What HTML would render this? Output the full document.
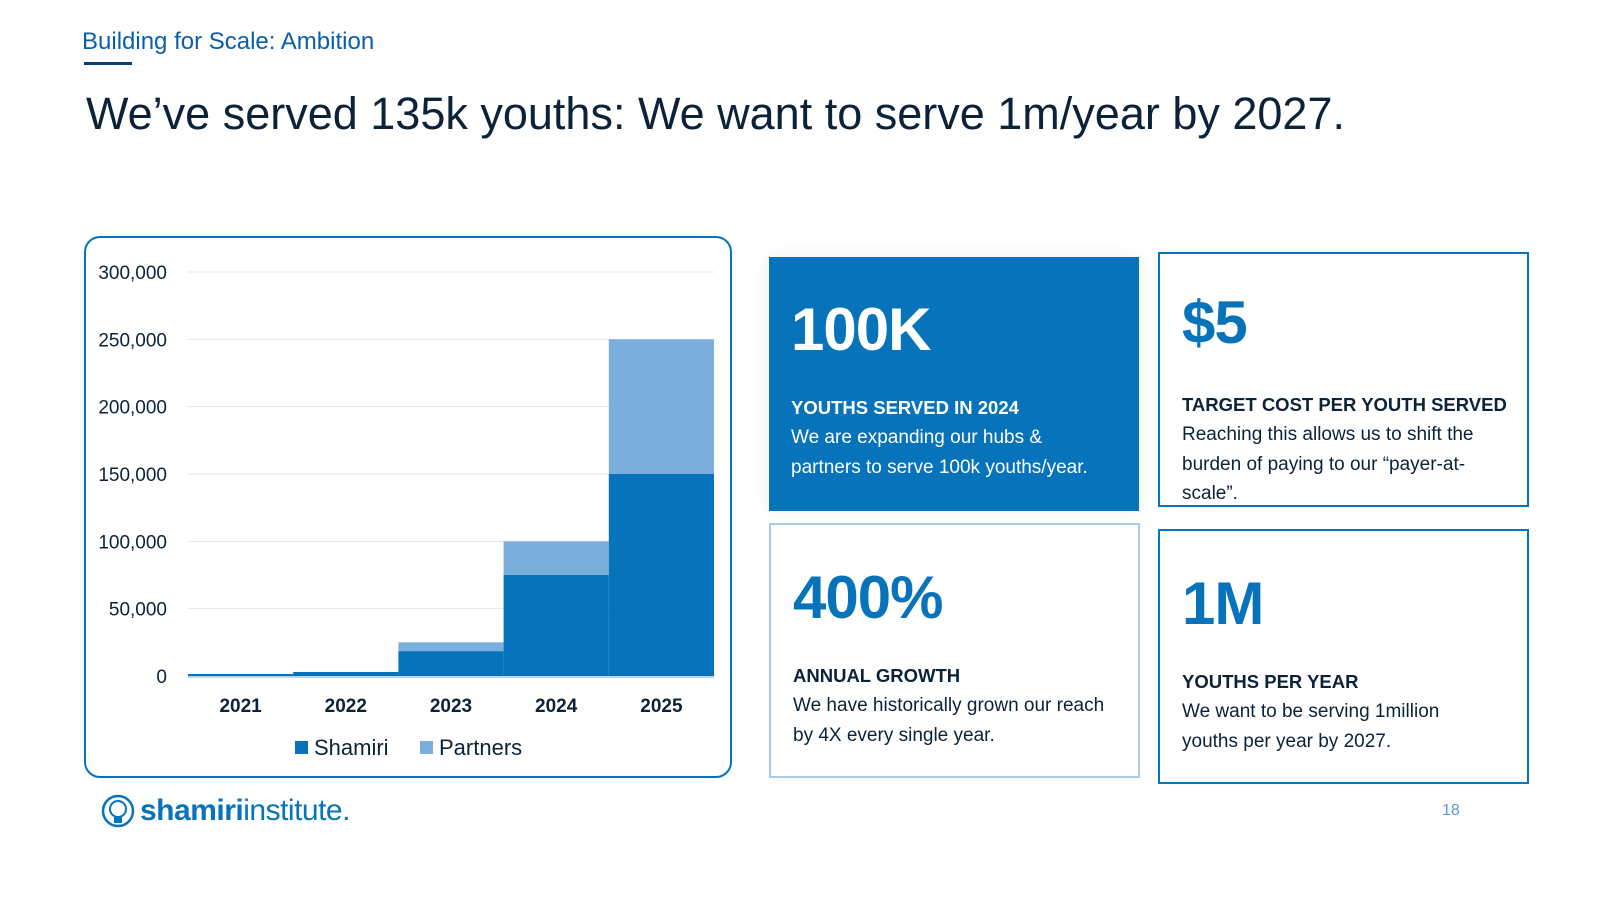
<!DOCTYPE html>
<html><head><meta charset="utf-8"><style>
body{margin:0;width:1600px;height:900px;background:#fff;font-family:"Liberation Sans",sans-serif;position:relative;overflow:hidden;color:#0c2238}
.abs{position:absolute}
.card{position:absolute;box-sizing:border-box;padding:0 22px}
.big{position:absolute;left:22px;font-weight:bold;font-size:60px;letter-spacing:-1px}
.lab{position:absolute;left:22px;font-weight:bold;font-size:18.5px;white-space:nowrap}
.txt{position:absolute;left:22px;font-size:19px;line-height:29.5px}
</style></head><body>
<div class="abs" style="left:82px;top:28px;font-size:24px;color:#0a5fa8">Building for Scale: Ambition</div>
<div class="abs" style="left:84px;top:62px;width:48px;height:3px;background:#0a3f6e"></div>
<div class="abs" style="left:86px;top:88px;font-size:45px;color:#0c2238">We’ve served 135k youths: We want to serve 1m/year by 2027.</div>

<div class="abs" style="left:84px;top:236px;width:648px;height:542px;box-sizing:border-box;border:2px solid #0673ba;border-radius:16px"></div>
<svg class="abs" style="left:0;top:0" width="740" height="790" id="chart"></svg>

<div class="card" style="left:769px;top:257px;width:370px;height:254px;background:#0673ba;color:#fff;box-shadow:0 0 16px rgba(0,0,0,0.08)">
<div class="big" style="top:38px">100K</div>
<div class="lab" style="top:140px">YOUTHS SERVED IN 2024</div>
<div class="txt" style="top:166px;width:300px">We are expanding our hubs &amp; partners to serve 100k youths/year.</div></div>

<div class="card" style="left:1158px;top:252px;width:371px;height:255px;border:2px solid #0673ba">
<div class="big" style="top:34px;color:#0673ba">$5</div>
<div class="lab" style="top:140px">TARGET COST PER YOUTH SERVED</div>
<div class="txt" style="top:166px;width:305px">Reaching this allows us to shift the burden of paying to our “payer-at-scale”.</div></div>

<div class="card" style="left:769px;top:523px;width:371px;height:255px;border:2px solid #a9cbea">
<div class="big" style="top:38px;color:#0673ba">400%</div>
<div class="lab" style="top:140px">ANNUAL GROWTH</div>
<div class="txt" style="top:166px;width:330px">We have historically grown our reach by 4X every single year.</div></div>

<div class="card" style="left:1158px;top:529px;width:371px;height:255px;border:2px solid #0673ba">
<div class="big" style="top:38px;color:#0673ba">1M</div>
<div class="lab" style="top:140px">YOUTHS PER YEAR</div>
<div class="txt" style="top:166px;width:295px">We want to be serving 1million youths per year by 2027.</div></div>

<div class="abs" style="left:100px;top:793px;display:flex;align-items:center">
<svg width="36" height="36"><circle cx="18" cy="18" r="15" fill="none" stroke="#0673ba" stroke-width="2.5"/><circle cx="18" cy="16" r="8" fill="none" stroke="#0673ba" stroke-width="2"/><rect x="14" y="24" width="8" height="6" fill="#0673ba"/></svg>
<span style="font-size:30px;color:#0673ba;margin-left:4px;letter-spacing:-0.5px"><b>shamiri</b>institute.</span></div>
<div class="abs" style="left:1442px;top:802px;font-size:16px;color:#5b9bd5">18</div>

<script>
const years=["2021","2022","2023","2024","2025"];
const shamiri=[1500,3000,18500,75000,150000];
const partners=[0,0,6500,25000,100000];
const ticks=[0,50000,100000,150000,200000,250000,300000];
const tickLabels=["0","50,000","100,000","150,000","200,000","250,000","300,000"];
const svg=document.getElementById('chart');const NS="http://www.w3.org/2000/svg";
const y0=676,y1=272,vmax=300000,x0=188,x1=714;
const Y=v=>y0-(v/vmax)*(y0-y1);const bw=(x1-x0)/years.length;const X=i=>x0+i*bw;
function el(t,a){const e=document.createElementNS(NS,t);for(const k in a)e.setAttribute(k,a[k]);svg.appendChild(e);return e;}
ticks.forEach((t,i)=>{
 const g=el('line',{x1:x0,x2:x1,y1:Y(t),y2:Y(t),stroke:'#e3e6ea','stroke-width':1});
 
 
 const tx=el('text',{x:167,y:Y(t)+7,'text-anchor':'end','font-size':19,fill:'#0c2238','font-family':'Liberation Sans'});
 tx.textContent=tickLabels[i];
 
 
});
years.forEach((yr,i)=>{
 const s=el('rect',{x:X(i),y:Y(shamiri[i]),width:bw,height:y0-Y(shamiri[i]),fill:'#0673ba'});
 
 
 const p=el('rect',{x:X(i),y:Y(shamiri[i]+partners[i]),width:bw,height:Y(shamiri[i])-Y(shamiri[i]+partners[i]),fill:'#7aaedd'});
 
 
 const t=el('text',{x:X(i)+bw/2,y:712,'text-anchor':'middle','font-size':19,'font-weight':'bold',fill:'#0c2238','font-family':'Liberation Sans'});
 t.textContent=yr;
 
 
});
const ax=el('line',{x1:x0,x2:x1,y1:y0+1,y2:y0+1,stroke:'#bcd6ee','stroke-width':2});


[["Shamiri","#0673ba",295],["Partners","#7aaedd",420]].forEach(([n,c,x])=>{
 const r=el('rect',{x:x,y:741,width:13,height:13,fill:c});
 
 
 const t=el('text',{x:x+19,y:755,'font-size':22,fill:'#0c2238','font-family':'Liberation Sans'});
 t.textContent=n;
 
 
});
</script>
</body></html>
